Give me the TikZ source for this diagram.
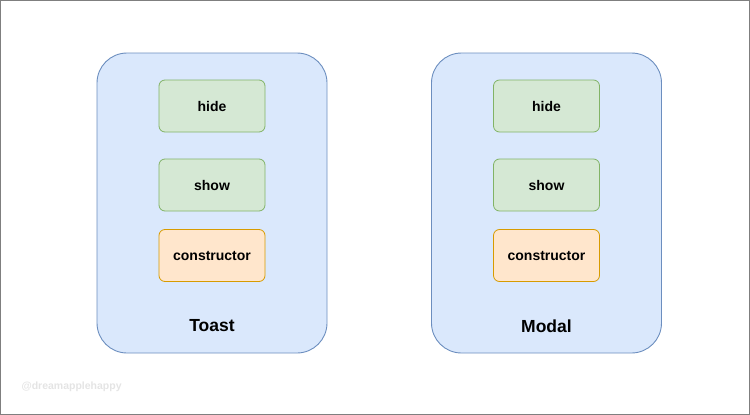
\documentclass[tikz,border=0pt]{standalone}
\usepackage{fontspec}
\setmainfont{Liberation Sans}
\usepackage{tikz}

\definecolor{classfill}{HTML}{DAE8FC}
\definecolor{classline}{HTML}{6C8EBF}
\definecolor{methfill}{HTML}{D5E8D4}
\definecolor{methline}{HTML}{82B366}
\definecolor{ctorfill}{HTML}{FFE6CC}
\definecolor{ctorline}{HTML}{D79B00}
\definecolor{frameline}{HTML}{7F7F7F}
\definecolor{markgray}{HTML}{E4E4E4}

\begin{document}
\begin{tikzpicture}[x=1pt, y=-1pt,
    classbox/.style={draw=classline, fill=classfill, line width=0.9pt,
        rounded corners=30pt, minimum width=230pt, minimum height=300pt},
    methbox/.style={draw=methline, fill=methfill, line width=0.8pt,
        rounded corners=6pt, minimum width=106pt, minimum height=52pt,
        font=\fontsize{14}{16}\selectfont\bfseries},
    ctorbox/.style={methbox, draw=ctorline, fill=ctorfill},
    classlabel/.style={font=\fontsize{17.5}{20}\selectfont\bfseries}]
% frame of the whole picture
\useasboundingbox (0, 0) rectangle (750, 415);
\draw[frameline, line width=1.2pt] (0.6, 0.6) rectangle (749.4, 414.4);

% Toast
\node[classbox] (toast) at (212, 203) {};
\node[methbox] (toasthide) at (212, 106) {hide};
\node[methbox] (toastshow) at (212, 185) {show};
\node[ctorbox] (toastctor) at (212, 255.5) {constructor};
\node[classlabel] (toastname) at (212, 326) {Toast};

% Modal
\node[classbox] (modal) at (546.5, 203) {};
\node[methbox] (modalhide) at (546.5, 106) {hide};
\node[methbox] (modalshow) at (546.5, 185) {show};
\node[ctorbox] (modalctor) at (546.5, 255.5) {constructor};
\node[classlabel] (modalname) at (546.5, 326) {Modal};

% watermark
\node[markgray, font=\fontsize{10.5}{12}\selectfont\bfseries, anchor=west]
    (mark) at (18, 387) {@dreamapplehappy};
\end{tikzpicture}
\end{document}
